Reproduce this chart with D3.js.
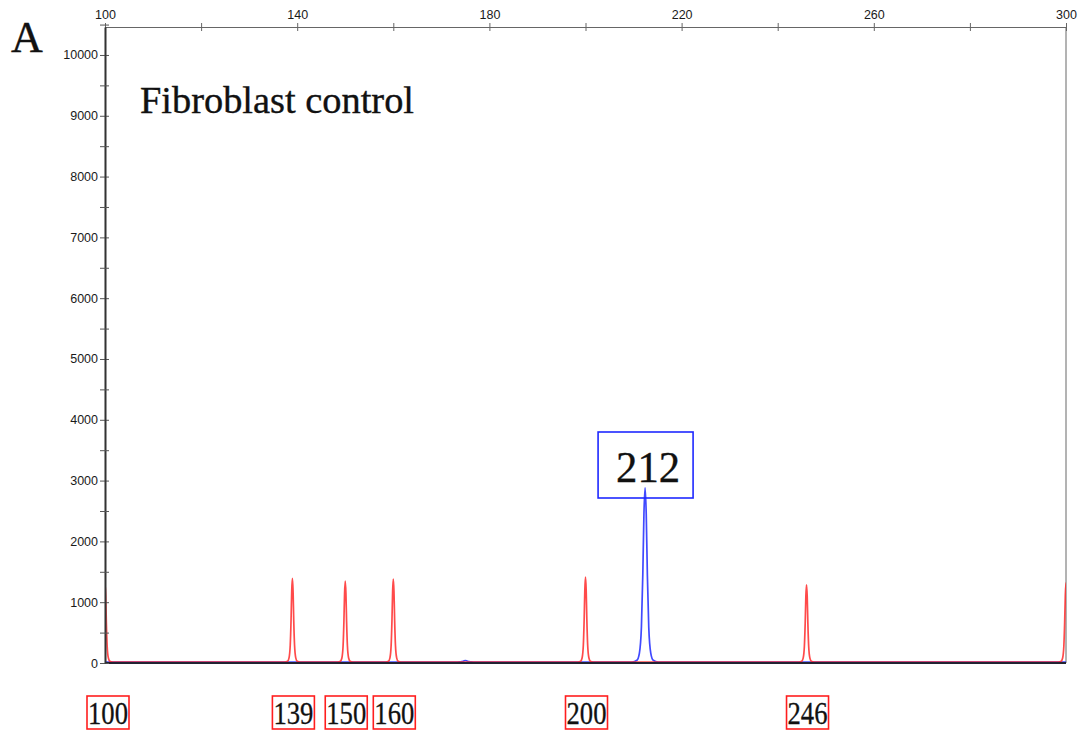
<!DOCTYPE html>
<html>
<head>
<meta charset="utf-8">
<script src="https://cdn.jsdelivr.net/npm/d3@7"></script>
<style>
  html, body { margin: 0; padding: 0; background: #fff; }
  svg { display: block; }
</style>
</head>
<body>
<svg id="chart" width="1083" height="736"></svg>
<script>
// Fragment sizes (bp) and peak heights (RFU) for the size-standard (red) channel
const redSizes   = [100, 139, 150, 160, 200, 246, 300];
const redHeights = [1300, 1375, 1330, 1365, 1395, 1270, 1300];

// Sample (blue) channel: small bump plus the main product
const blueSizes   = [175, 212.4];
const blueHeights = [25, 2865];

// Boxed size labels under the trace, and the boxed label above the sample peak
const sizeLabels = [100, 139, 150, 160, 200, 246];
const peakLabel  = { size: 212.4, text: "212" };

// Axis ticks
const topMajorTicks  = [100, 140, 180, 220, 260, 300];
const topMinorTicks  = [120, 160, 200, 240, 280];
const leftMajorTicks = [0, 1000, 2000, 3000, 4000, 5000, 6000, 7000, 8000, 9000, 10000];
const leftMinorTicks = [500, 1500, 2500, 3500, 4500, 5500, 6500, 7500, 8500, 9500, 10500];

// Peak profile template: offsets (bp) from the apex and fraction of apex height
const profileOffsets = [-1.6, -1.0, -0.7, -0.45, -0.28, -0.14, 0, 0.14, 0.28, 0.45, 0.7, 1.0, 1.6];
const profileFracs   = [0, 0.01, 0.05, 0.2, 0.5, 0.85, 1, 0.85, 0.5, 0.2, 0.05, 0.01, 0];

const svg = d3.select("#chart");
const plotLeft = 105, plotRight = 1066, plotTop = 27, plotBottom = 663;

const x = d3.scaleLinear().domain([100, 300]).range([plotLeft, plotRight]);
const y = d3.scaleLinear().domain([0, 10460]).range([plotBottom, plotTop]);

// Build a trace from peak positions/heights using the profile template
function buildTrace(sizes, heights, widthFactor) {
  const pts = [[x.domain()[0] - 3, 0]];
  sizes.forEach((s, i) => {
    profileOffsets.forEach((o, j) => pts.push([s + o * widthFactor, heights[i] * profileFracs[j]]));
  });
  pts.push([x.domain()[1] + 3, 0]);
  pts.sort((a, b) => a[0] - b[0]);
  return pts;
}

const line = d3.line()
  .x(d => x(d[0]))
  .y(d => y(d[1]) - 1)
  .curve(d3.curveMonotoneX);

svg.append("defs").append("clipPath").attr("id", "plotClip")
  .append("rect").attr("x", plotLeft).attr("y", plotTop)
  .attr("width", plotRight - plotLeft).attr("height", plotBottom - plotTop + 2);

// Right frame edge
svg.append("line")
  .attr("x1", plotRight).attr("x2", plotRight).attr("y1", plotTop).attr("y2", plotBottom)
  .attr("stroke", "#9a9a9a").attr("stroke-width", 1.5);

const traces = svg.append("g").attr("clip-path", "url(#plotClip)");
traces.append("path")
  .datum(buildTrace(blueSizes, blueHeights, 1.7))
  .attr("fill", "none").attr("stroke", "#2b35ff").attr("stroke-width", 1.7)
  .attr("stroke-linejoin", "round").attr("opacity", 0.9)
  .attr("d", line);
traces.append("path")
  .datum(buildTrace(redSizes, redHeights, 1))
  .attr("fill", "none").attr("stroke", "#ff2a2a").attr("stroke-width", 1.7)
  .attr("stroke-linejoin", "round").attr("opacity", 0.85)
  .attr("d", line);

// Baseline
svg.append("line")
  .attr("x1", plotLeft).attr("x2", plotRight).attr("y1", plotBottom).attr("y2", plotBottom)
  .attr("stroke", "#222233").attr("stroke-width", 2);

// Top axis
const tickFont = "Liberation Sans, Arial, sans-serif";
const topAxis = svg.append("g").attr("transform", `translate(0,${plotTop})`)
  .call(d3.axisTop(x).tickValues(topMajorTicks).tickSize(4).tickSizeOuter(0).tickFormat(d3.format("d")));
const topMinor = svg.append("g").attr("transform", `translate(0,${plotTop})`)
  .call(d3.axisTop(x).tickValues(topMinorTicks).tickSize(4).tickSizeOuter(0).tickFormat(""));
[topAxis, topMinor].forEach(g => {
  g.select(".domain").attr("stroke", "#666").attr("stroke-width", 1.2);
  g.selectAll(".tick line").attr("y2", -4).attr("y1", 4).attr("stroke", "#666");
});
topAxis.selectAll(".tick text")
  .attr("font-family", tickFont).attr("font-size", 12.5).attr("fill", "#1a1a1a").attr("y", -8);

// Left axis
const leftAxis = svg.append("g").attr("transform", `translate(${plotLeft},0)`)
  .call(d3.axisLeft(y).tickValues(leftMajorTicks).tickSize(5).tickSizeOuter(0).tickFormat(d3.format("d")));
const leftMinor = svg.append("g").attr("transform", `translate(${plotLeft},0)`)
  .call(d3.axisLeft(y).tickValues(leftMinorTicks).tickSize(5).tickSizeOuter(0).tickFormat(""));
[leftAxis, leftMinor].forEach(g => {
  g.select(".domain").attr("stroke", "#333").attr("stroke-width", 1.6);
  g.selectAll(".tick line").attr("x2", -5).attr("x1", 4).attr("stroke", "#555");
});
leftAxis.selectAll(".tick text")
  .attr("font-family", tickFont).attr("font-size", 12.5).attr("fill", "#1a1a1a").attr("x", -7);

const serif = "Liberation Serif, 'Times New Roman', serif";

// Panel letter and title
svg.append("text").attr("x", 11).attr("y", 52)
  .attr("font-family", serif).attr("font-size", 44).attr("fill", "#111")
  .attr("stroke", "#111").attr("stroke-width", 0.4).text("A");
svg.append("text").attr("x", 140).attr("y", 113)
  .attr("font-family", serif).attr("font-size", 37).attr("fill", "#111")
  .attr("stroke", "#111").attr("stroke-width", 0.35)
  .attr("textLength", 274).attr("lengthAdjust", "spacingAndGlyphs")
  .text("Fibroblast control");

// Boxed size labels
const lab = svg.append("g").selectAll("g").data(sizeLabels).join("g")
  .attr("transform", d => `translate(${x(d) + (d === 100 ? 3 : 1) - 21},696)`);
lab.append("rect").attr("width", 42).attr("height", 33)
  .attr("fill", "none").attr("stroke", "#ff1e1e").attr("stroke-width", 1.6);
lab.append("text").attr("x", 1).attr("y", 28)
  .attr("font-family", serif).attr("font-size", 32).attr("fill", "#111")
  .attr("stroke", "#111").attr("stroke-width", 0.3)
  .attr("textLength", 40).attr("lengthAdjust", "spacingAndGlyphs")
  .text(d => d);

// Boxed label above the sample peak
const pl = svg.append("g").attr("transform", `translate(${x(peakLabel.size) - 47},432)`);
pl.append("rect").attr("width", 95).attr("height", 66)
  .attr("fill", "none").attr("stroke", "#1e28ff").attr("stroke-width", 1.6);
pl.append("text").attr("x", 18).attr("y", 50)
  .attr("font-family", serif).attr("font-size", 45).attr("fill", "#111")
  .attr("stroke", "#111").attr("stroke-width", 0.35)
  .attr("textLength", 64).attr("lengthAdjust", "spacingAndGlyphs")
  .text(peakLabel.text);
</script>
</body>
</html>
